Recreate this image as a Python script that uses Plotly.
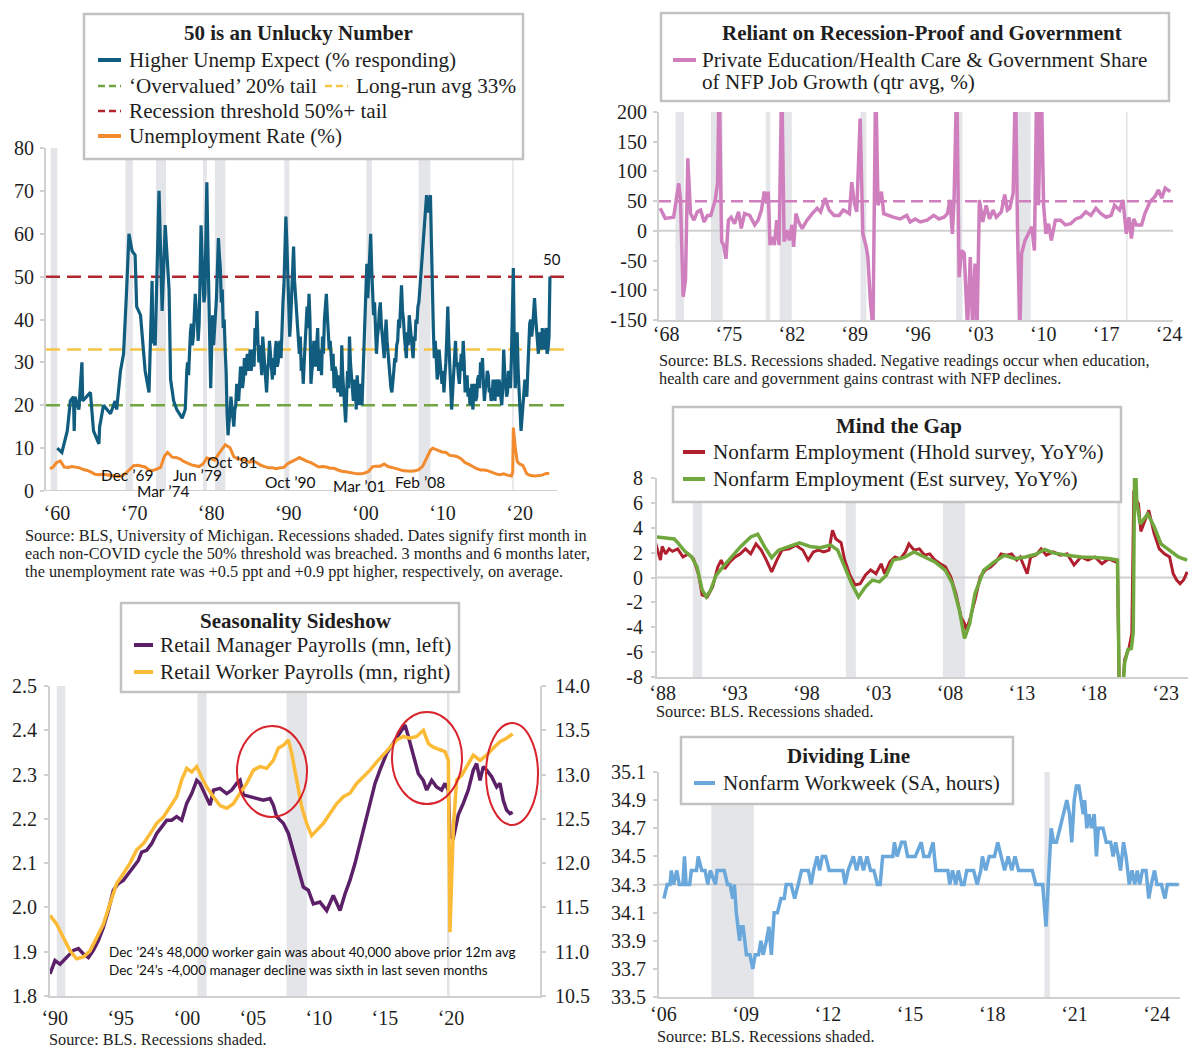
import plotly.graph_objects as go

# The page body has an 8px default margin; lay everything out in reference-pixel
# coordinates and convert to the figure's paper space.
OFF = 8
W, H = 1200 - 2 * OFF, 1058 - 2 * OFF
def px(x): return (x - OFF) / W
def py(y): return 1 - (y - OFF) / H

SERIF = "Liberation Serif"
SANS = "Lato"
INK = "#1e1e1e"
AXIS_GRAY = "#d0d0d0"
REC_GRAY = "#e4e5e8"
BOX_GRAY = "#c2c2c2"

# ---------------- data ----------------
recessions = [(1960.25, 1961.1), (1969.95, 1970.9), (1973.9, 1975.2), (1980.0, 1980.5),
              (1981.55, 1982.9), (1990.55, 1991.2), (2001.2, 2001.9), (2007.95, 2009.5),
              (2020.1, 2020.3)]

# Panel 1: Higher unemployment expectations (% responding)
ue_early_year = [1961.1, 1961.7, 1962.4, 1962.8, 1963.2, 1963.3, 1963.4, 1963.9, 1964.3, 1964.4,
                 1965.4, 1965.8, 1966.5, 1966.6, 1967.1, 1968.0, 1968.6, 1968.8, 1969.3, 1969.7,
                 1970.1, 1970.4, 1970.8, 1971.2, 1971.4, 1971.9, 1972.5, 1973.0, 1973.4, 1973.5,
                 1973.8, 1974.3, 1974.7, 1975.1, 1975.6, 1975.8, 1976.2, 1976.6, 1977.3, 1977.7,
                 1977.9]
ue_early_val = [10, 9, 14, 21, 22, 14, 22, 19, 30, 21,
                23, 14, 11, 15, 20, 18, 21, 19, 28, 32,
                47, 60, 56, 55, 43, 41, 28, 23, 49, 35,
                34, 70, 42, 62, 47, 26, 21, 19, 17, 19,
                28]
ue_start = 1978.0
ue_step = 0.125
ue_recent = [30, 27, 33, 37, 39, 34, 36, 41,   46, 42, 40, 35, 39, 50, 62, 55,
             50, 44, 46, 60, 72, 58, 45, 30,   24, 33, 41, 34, 37, 42, 45, 52,
             59, 55, 52, 44, 47, 38, 40, 33,   28, 18, 13, 16, 18, 22, 20, 17,
             15, 19, 20, 25, 23, 21, 25, 29,   28, 24, 26, 31, 27, 30, 32, 28,
             30, 33, 28, 31, 33, 29, 38, 34,   42, 35, 30, 34, 31, 27, 36, 33,
             30, 26, 23, 28, 30, 35, 32, 28,   26, 31, 27, 33, 35, 29, 30, 34,
             35, 31, 39, 44, 48, 55, 64, 58,   50, 42, 36, 40, 45, 52, 57, 49,
             45, 41, 38, 34, 32, 36, 28, 31,   25, 30, 35, 39, 43, 38, 46, 40,
             25, 28, 30, 35, 32, 29, 34, 38,   28, 33, 31, 27, 36, 32, 40, 44,
             46, 41, 38, 33, 35, 30, 28, 32,   24, 29, 28, 25, 23, 27, 26, 22,
             34, 27, 22, 19, 16, 22, 28, 24,   36, 30, 26, 22, 21, 26, 25, 19,
             27, 23, 20, 25, 24, 20, 27, 31,   40, 47, 53, 45, 50, 55, 60, 52,
             48, 41, 44, 37, 32, 36, 38, 42,   44, 39, 36, 33, 31, 36, 40, 35,
             32, 28, 27, 24, 23, 27, 28, 31,   30, 34, 35, 40, 38, 43, 48, 42,
             40, 36, 34, 31, 37, 34, 41, 38,   35, 33, 31, 36, 35, 40, 39, 43,
             44, 47, 50, 54, 57, 60, 63, 66,   69, 66, 65, 68, 69, 58, 45, 38,
             31, 35, 31, 26, 28, 33, 30, 27,   25, 28, 23, 27, 30, 36, 43, 35,
             28, 24, 19, 23, 27, 31, 35, 29,   30, 27, 25, 29, 32, 28, 35, 30,
             23, 26, 27, 22, 24, 20, 21, 25,   19, 23, 25, 21, 22, 26, 27, 24,
             30, 27, 31, 25, 21, 24, 25, 28,   27, 23, 24, 21, 22, 26, 23, 21,
             26, 23, 22, 26, 25, 22, 20, 24,   33, 28, 25, 22, 23, 28, 27, 24,
             31, 42, 52, 33, 24, 30, 37, 28,   24, 18, 14, 17, 20, 24, 26, 23,
             22, 28, 35, 39, 40, 36, 38, 42,   45, 41, 38, 33, 32, 37, 36, 33,
             38, 35, 33, 37, 38, 32, 33, 36,   50]

# Panel 1: Unemployment rate (%)
ur_year = [1960.15, 1960.5, 1961.0, 1961.5, 1962.0, 1962.5, 1963.0, 1963.5, 1964.0, 1964.5,
           1965.0, 1965.5, 1966.0, 1966.5, 1967.0, 1967.5, 1968.0, 1968.5, 1969.0, 1969.5,
           1970.0, 1970.5, 1971.0, 1971.5, 1972.0, 1972.5, 1973.0, 1973.5, 1974.0, 1974.5,
           1975.0, 1975.4, 1975.75, 1976.0, 1976.5, 1977.0, 1977.5, 1978.0, 1978.5, 1979.0,
           1979.5, 1980.0, 1980.5, 1981.0, 1981.5, 1982.0, 1982.5, 1982.9, 1983.5, 1984.0,
           1984.5, 1985.0, 1985.5, 1986.0, 1986.5, 1987.0, 1987.5, 1988.0, 1988.5, 1989.0,
           1989.5, 1990.0, 1990.5, 1991.0, 1991.5, 1992.0, 1992.5, 1993.0, 1993.5, 1994.0,
           1994.5, 1995.0, 1995.5, 1996.0, 1996.5, 1997.0, 1997.5, 1998.0, 1998.5, 1999.0,
           1999.5, 2000.0, 2000.5, 2001.0, 2001.5, 2002.0, 2002.5, 2003.0, 2003.5, 2004.0,
           2004.5, 2005.0, 2005.5, 2006.0, 2006.5, 2007.0, 2007.5, 2008.0, 2008.5, 2009.0,
           2009.5, 2009.8, 2010.5, 2011.0, 2011.5, 2012.0, 2012.5, 2013.0, 2013.5, 2014.0,
           2014.5, 2015.0, 2015.5, 2016.0, 2016.5, 2017.0, 2017.5, 2018.0, 2018.5, 2019.0,
           2019.5, 2020.0, 2020.17, 2020.25, 2020.5, 2020.75, 2021.0, 2021.5, 2022.0, 2022.5,
           2023.0, 2023.5, 2024.0, 2024.5, 2024.9]
ur_val = [5.2, 5.5, 6.6, 7.0, 5.6, 5.5, 5.7, 5.6, 5.4, 5.0,
          4.8, 4.4, 3.9, 3.8, 3.9, 3.8, 3.6, 3.5, 3.4, 3.5,
          4.2, 5.0, 5.9, 6.0, 5.8, 5.6, 4.9, 4.8, 5.1, 5.5,
          8.1, 9.0, 8.4, 7.9, 7.8, 7.5, 6.9, 6.4, 6.1, 5.9,
          5.7, 6.3, 7.7, 7.5, 7.2, 8.6, 9.8, 10.8, 10.1, 8.0,
          7.5, 7.3, 7.2, 6.7, 7.0, 6.6, 6.0, 5.7, 5.4, 5.4,
          5.2, 5.4, 5.5, 6.4, 6.8, 7.3, 7.8, 7.3, 6.9, 6.6,
          6.1, 5.6, 5.7, 5.6, 5.3, 5.3, 4.9, 4.6, 4.5, 4.3,
          4.2, 4.0, 4.0, 4.2, 4.6, 5.7, 5.8, 5.8, 6.3, 5.7,
          5.5, 5.3, 5.0, 4.7, 4.6, 4.6, 4.7, 5.0, 5.8, 7.8,
          9.5, 10.0, 9.4, 9.1, 9.0, 8.3, 8.2, 8.0, 7.5, 6.6,
          6.2, 5.7, 5.2, 4.9, 4.9, 4.7, 4.3, 4.0, 3.8, 4.0,
          3.7, 3.5, 4.4, 14.8, 10.2, 6.9, 6.4, 5.9, 4.0, 3.6,
          3.5, 3.6, 3.7, 4.1, 4.1]

# Panel 2: Private Ed/Health & Government share of NFP growth
pink_points = [(1968.24, 38), (1968.80, 21), (1969.74, 23), (1970.31, 80), (1970.50, 53),
    (1970.80, -111), (1971.06, -83), (1971.32, 122), (1971.62, 29), (1972.00, 18), (1972.38, 32),
    (1972.75, 35), (1973.13, 15), (1973.51, 26), (1973.88, 26), (1974.37, 52), (1974.63, 80),
    (1974.82, 260), (1975.01, 53), (1975.09, -18), (1975.31, -24), (1975.57, -47), (1975.84, 18),
    (1976.14, 23), (1976.52, 12), (1976.97, 32), (1977.27, 4), (1977.64, 29), (1978.21, 26),
    (1978.77, 10), (1979.15, 18), (1979.52, 35), (1979.83, 66), (1980.09, 46), (1980.28, 66),
    (1980.47, -24), (1980.73, -10), (1980.95, -24), (1981.22, 18), (1981.48, -24), (1981.78, 260),
    (1982.04, -18), (1982.35, 1), (1982.61, -16), (1982.91, 10), (1983.10, -27), (1983.36, 29),
    (1983.66, 15), (1984.04, 4), (1984.60, 18), (1985.17, 29), (1985.73, 38), (1986.11, 32),
    (1986.60, 55), (1987.05, 35), (1987.61, 26), (1988.18, 26), (1988.63, 35), (1989.00, 32),
    (1989.31, 29), (1989.57, 82), (1989.87, 46), (1990.13, 32), (1990.51, 189), (1990.81, -5),
    (1991.19, -27), (1991.37, -44), (1991.64, -117), (1991.94, -165), (1992.24, 260),
    (1992.50, 43), (1992.88, 66), (1993.14, 29), (1993.63, 26), (1994.20, 23), (1994.95, 20),
    (1995.70, 26), (1996.08, 15), (1996.64, 20), (1997.21, 15), (1997.96, 18), (1998.71, 26),
    (1999.28, 20), (1999.84, 23), (2000.22, 29), (2000.52, 52), (2000.78, -5), (2000.97, 52),
    (2001.27, 260), (2001.53, -78), (2001.80, -33), (2002.10, -38), (2002.47, -165),
    (2002.77, -44), (2003.04, -165), (2003.30, -55), (2003.53, -165), (2003.79, 52),
    (2004.17, 15), (2004.54, 43), (2004.92, 20), (2005.30, 35), (2005.67, 23), (2006.23, 32),
    (2006.61, 61), (2006.91, 35), (2007.18, 38), (2007.55, 64), (2007.81, 260), (2008.04, -5),
    (2008.30, -165), (2008.49, -38), (2008.87, -16), (2009.24, -5), (2009.62, 7), (2009.92, -33),
    (2010.18, 260), (2010.37, 43), (2010.67, 260), (2010.94, 43), (2011.20, -5), (2011.50, 12),
    (2011.80, -16), (2012.25, 18), (2012.82, 18), (2013.38, 10), (2013.95, 12), (2014.51, 20),
    (2015.08, 23), (2015.64, 32), (2016.20, 26), (2016.77, 38), (2017.33, 29), (2017.90, 23),
    (2018.46, 26), (2018.84, 43), (2019.40, 35), (2019.78, 52), (2020.15, -5), (2020.45, 23),
    (2020.72, -13), (2020.98, 20), (2021.28, 10), (2021.85, 10), (2022.22, 29), (2022.79, 49),
    (2023.35, 58), (2023.73, 69), (2024.10, 55), (2024.48, 72), (2025.04, 66)]

# Panel 3: Nonfarm employment YoY%
hhold_points = [(1987.93, 2.9), (1988.30, 1.4), (1988.42, 2.5), (1988.66, 1.9), (1988.90, 2.3),
    (1989.14, 2.1), (1989.50, 2.3), (1989.87, 1.65), (1990.23, 1.9), (1990.60, 1.5), (1990.96, 0.2),
    (1991.20, -1.4), (1991.56, -1.56), (1991.93, -0.75), (1992.29, 0.85), (1992.53, 1.4),
    (1992.77, 0.7), (1993.13, 1.25), (1993.50, 1.65), (1993.86, 1.9), (1994.22, 2.3), (1994.58, 1.9),
    (1994.95, 2.7), (1995.31, 2.2), (1995.67, 1.4), (1996.04, 0.45), (1996.40, 1.4), (1996.76, 2.2),
    (1997.25, 2.3), (1997.73, 2.6), (1998.21, 2.2), (1998.58, 1.4), (1998.94, 2.06), (1999.30, 2.2),
    (1999.66, 2.06), (2000.03, 2.2), (2000.27, 3.8), (2000.51, 3.1), (2000.87, 2.8), (2001.12, 1.4),
    (2001.48, 0.2), (2001.84, -0.6), (2002.20, -0.5), (2002.57, 0.2), (2002.93, 0.6), (2003.30, 0.3),
    (2003.66, 1.1), (2003.90, 0.3), (2004.26, 1.25), (2004.62, 1.65), (2004.99, 1.5), (2005.35, 2.06),
    (2005.59, 2.7), (2005.95, 2.2), (2006.32, 2.3), (2006.68, 1.8), (2007.04, 1.9), (2007.40, 1.4),
    (2007.77, 1.1), (2008.13, 0.85), (2008.50, 0.05), (2008.86, -1.3), (2009.22, -3.2),
    (2009.46, -3.7), (2009.58, -4.2), (2009.82, -3.4), (2010.19, -1.8), (2010.55, 0.05),
    (2010.91, 0.6), (2011.28, 0.85), (2011.64, 1.25), (2012.00, 1.9), (2012.37, 1.8), (2012.73, 1.9),
    (2013.09, 1.4), (2013.33, 1.65), (2013.82, 0.3), (2014.06, 1.65), (2014.42, 1.8), (2014.79, 2.3),
    (2015.15, 1.8), (2015.63, 2.06), (2016.12, 1.8), (2016.60, 1.9), (2017.08, 1.0), (2017.56, 1.65),
    (2018.05, 1.4), (2018.53, 1.65), (2019.02, 1.1), (2019.50, 1.5), (2019.98, 1.25), (2020.10, 1.3),
    (2020.28, -14.0), (2020.45, -9.0), (2020.60, -6.6), (2020.90, -5.7), (2021.10, -4.5),
    (2021.24, 7.0), (2021.40, 6.2), (2021.56, 5.95), (2021.73, 3.7), (2022.04, 4.6), (2022.28, 5.4),
    (2022.65, 3.55), (2023.01, 2.3), (2023.37, 1.9), (2023.73, 1.65), (2023.98, 0.3),
    (2024.22, -0.2), (2024.46, -0.5), (2024.70, -0.2), (2024.95, 0.45)]
est_points = [(1988.05, 3.26), (1988.60, 3.2), (1989.26, 3.1), (1989.50, 2.8), (1990.00, 2.1),
    (1990.47, 1.65), (1990.84, 0.85), (1991.20, -1.0), (1991.49, -1.56), (1991.80, -1.0),
    (1992.17, 0.18), (1992.65, 0.85), (1993.13, 1.52), (1993.86, 2.46), (1994.58, 3.26),
    (1995.07, 3.48), (1995.55, 2.46), (1996.04, 1.6), (1996.52, 2.2), (1997.25, 2.46),
    (1997.97, 2.78), (1998.70, 2.5), (1999.42, 2.4), (2000.15, 2.6), (2000.63, 2.2), (2001.12, 0.85),
    (2001.60, -0.48), (2002.08, -1.56), (2002.57, -0.75), (2003.05, -0.21), (2003.54, -0.35),
    (2004.02, 0.18), (2004.50, 1.4), (2005.23, 1.6), (2005.95, 2.06), (2006.68, 1.65),
    (2007.40, 1.25), (2008.13, 0.58), (2008.61, -0.48), (2009.10, -2.62), (2009.46, -4.9),
    (2009.82, -3.7), (2010.19, -1.29), (2010.79, 0.58), (2011.52, 1.25), (2012.24, 1.79),
    (2012.97, 1.52), (2013.70, 1.65), (2014.42, 1.87), (2015.03, 2.25), (2015.63, 1.98),
    (2016.60, 1.79), (2017.56, 1.65), (2018.53, 1.6), (2019.50, 1.52), (2020.10, 1.4),
    (2020.28, -13.0), (2020.40, -10.5), (2020.60, -6.9), (2020.83, -5.8), (2021.07, -5.7),
    (2021.20, -4.4), (2021.31, 10.7), (2021.45, 6.0), (2021.68, 4.3), (2022.21, 5.1),
    (2022.65, 4.1), (2023.13, 2.7), (2023.86, 2.06), (2024.34, 1.65), (2024.95, 1.4)]

# Panel 4: Retail payrolls (mn)
manager_points = [(1990.04, 1.85), (1990.42, 1.88), (1990.80, 1.872), (1991.30, 1.886),
    (1991.81, 1.903), (1992.19, 1.907), (1992.57, 1.895), (1992.95, 1.887), (1993.32, 1.903),
    (1993.70, 1.925), (1994.08, 1.955), (1994.46, 1.993), (1994.84, 2.039), (1995.22, 2.054),
    (1995.59, 2.061), (1995.97, 2.076), (1996.35, 2.091), (1996.73, 2.106), (1996.98, 2.125),
    (1997.36, 2.129), (1997.74, 2.144), (1998.12, 2.167), (1998.50, 2.182), (1998.88, 2.197),
    (1999.25, 2.197), (1999.63, 2.205), (2000.01, 2.197), (2000.39, 2.235), (2000.77, 2.257),
    (2001.15, 2.287), (2001.40, 2.28), (2001.78, 2.257), (2002.16, 2.231), (2002.41, 2.265),
    (2002.91, 2.269), (2003.42, 2.257), (2003.80, 2.265), (2004.17, 2.28), (2004.43, 2.287),
    (2004.68, 2.254), (2005.18, 2.25), (2005.69, 2.246), (2006.19, 2.242), (2006.70, 2.246),
    (2006.95, 2.231), (2007.20, 2.205), (2007.71, 2.19), (2008.09, 2.167), (2008.46, 2.129),
    (2008.84, 2.091), (2009.22, 2.046), (2009.60, 2.039), (2009.98, 2.008), (2010.48, 2.012),
    (2010.99, 1.993), (2011.49, 2.027), (2012.00, 1.993), (2012.38, 2.031), (2012.75, 2.061),
    (2013.13, 2.099), (2013.51, 2.144), (2013.89, 2.19), (2014.27, 2.235), (2014.65, 2.28),
    (2015.02, 2.31), (2015.53, 2.348), (2016.03, 2.371), (2016.54, 2.393), (2016.92, 2.412),
    (2017.17, 2.386), (2017.55, 2.34), (2017.93, 2.302), (2018.30, 2.287), (2018.56, 2.265),
    (2018.94, 2.287), (2019.31, 2.272), (2019.69, 2.265), (2019.95, 2.28), (2020.20, 2.265),
    (2020.32, 2.16), (2020.58, 2.157), (2020.96, 2.21), (2021.33, 2.235), (2021.71, 2.265),
    (2022.09, 2.31), (2022.34, 2.325), (2022.60, 2.287), (2022.85, 2.318), (2023.10, 2.31),
    (2023.48, 2.295), (2023.86, 2.272), (2024.11, 2.28), (2024.36, 2.242), (2024.61, 2.22),
    (2024.87, 2.212), (2025.07, 2.215)]
worker_points = [(1990.04, 11.41), (1990.55, 11.31), (1991.05, 11.16), (1991.56, 11.01),
    (1992.06, 10.92), (1992.57, 10.94), (1993.07, 11.01), (1993.58, 11.16), (1994.08, 11.31),
    (1994.58, 11.54), (1995.09, 11.77), (1995.59, 11.88), (1996.10, 12.0), (1996.60, 12.15),
    (1997.11, 12.22), (1997.61, 12.33), (1998.12, 12.45), (1998.62, 12.52), (1999.13, 12.64),
    (1999.63, 12.75), (2000.01, 12.94), (2000.39, 13.07), (2000.77, 13.03), (2001.15, 13.09),
    (2001.52, 12.97), (2001.90, 12.86), (2002.41, 12.75), (2002.91, 12.65), (2003.42, 12.62),
    (2003.92, 12.67), (2004.43, 12.79), (2004.93, 12.9), (2005.44, 13.05), (2005.94, 13.09),
    (2006.45, 13.07), (2006.95, 13.16), (2007.33, 13.3), (2007.71, 13.33), (2008.09, 13.39),
    (2008.34, 13.24), (2008.72, 12.94), (2009.09, 12.64), (2009.47, 12.45), (2009.85, 12.31),
    (2010.23, 12.37), (2010.74, 12.45), (2011.24, 12.56), (2011.74, 12.67), (2012.25, 12.75),
    (2012.75, 12.79), (2013.26, 12.9), (2013.76, 12.97), (2014.27, 13.05), (2014.77, 13.14),
    (2015.28, 13.22), (2015.78, 13.31), (2016.29, 13.39), (2016.79, 13.43), (2017.30, 13.41),
    (2017.80, 13.43), (2018.31, 13.5), (2018.69, 13.35), (2019.06, 13.31), (2019.57, 13.28),
    (2019.95, 13.26), (2020.20, 13.16), (2020.32, 11.22), (2020.58, 12.41), (2020.83, 12.94),
    (2021.21, 12.99), (2021.59, 13.09), (2022.09, 13.22), (2022.60, 13.16), (2023.10, 13.22),
    (2023.61, 13.3), (2024.11, 13.37), (2024.61, 13.41), (2025.07, 13.46)]

# Panel 5: Nonfarm workweek (SA, hours)
workweek_points = [(2006.22, 34.2), (2006.34, 34.3), (2006.44, 34.3), (2006.49, 34.4),
    (2006.57, 34.3), (2006.69, 34.4), (2006.78, 34.3), (2006.91, 34.3), (2006.97, 34.5),
    (2007.03, 34.3), (2007.16, 34.3), (2007.22, 34.4), (2007.41, 34.4), (2007.47, 34.5),
    (2007.60, 34.4), (2007.72, 34.4), (2007.82, 34.3), (2007.91, 34.4), (2008.10, 34.3),
    (2008.16, 34.4), (2008.42, 34.4), (2008.54, 34.3), (2008.63, 34.3), (2008.73, 34.2),
    (2008.79, 34.3), (2008.86, 34.1), (2008.98, 33.9), (2009.04, 34.0), (2009.11, 34.0),
    (2009.17, 33.9), (2009.23, 33.8), (2009.36, 33.8), (2009.46, 33.7), (2009.55, 33.8),
    (2009.67, 33.8), (2009.76, 33.9), (2009.84, 33.8), (2009.96, 33.9), (2010.05, 34.0),
    (2010.14, 33.8), (2010.24, 34.1), (2010.36, 34.1), (2010.49, 34.2), (2010.61, 34.2),
    (2010.68, 34.3), (2010.86, 34.3), (2010.99, 34.2), (2011.12, 34.3), (2011.24, 34.4),
    (2011.49, 34.4), (2011.59, 34.3), (2011.68, 34.4), (2011.81, 34.5), (2011.90, 34.4),
    (2012.00, 34.5), (2012.12, 34.5), (2012.25, 34.4), (2012.50, 34.4), (2012.75, 34.4),
    (2012.83, 34.3), (2012.94, 34.4), (2013.13, 34.5), (2013.25, 34.4), (2013.38, 34.5),
    (2013.50, 34.4), (2013.63, 34.5), (2013.76, 34.4), (2013.88, 34.4), (2014.01, 34.3),
    (2014.11, 34.3), (2014.20, 34.5), (2014.38, 34.5), (2014.57, 34.5), (2014.63, 34.6),
    (2014.73, 34.5), (2014.89, 34.6), (2015.01, 34.6), (2015.11, 34.5), (2015.26, 34.5),
    (2015.39, 34.5), (2015.61, 34.6), (2015.70, 34.5), (2015.89, 34.5), (2016.04, 34.6),
    (2016.14, 34.4), (2016.39, 34.4), (2016.58, 34.4), (2016.65, 34.3), (2016.75, 34.4),
    (2016.87, 34.3), (2016.96, 34.4), (2017.08, 34.3), (2017.17, 34.3), (2017.27, 34.4),
    (2017.52, 34.4), (2017.65, 34.3), (2017.78, 34.4), (2017.84, 34.5), (2017.96, 34.4),
    (2018.09, 34.5), (2018.28, 34.5), (2018.40, 34.6), (2018.53, 34.5), (2018.65, 34.4),
    (2018.78, 34.5), (2018.91, 34.4), (2019.03, 34.5), (2019.16, 34.4), (2019.41, 34.4),
    (2019.66, 34.4), (2019.79, 34.3), (2020.04, 34.3), (2020.16, 34.0), (2020.35, 34.7),
    (2020.44, 34.6), (2020.54, 34.6), (2020.67, 34.7), (2020.79, 34.8), (2020.92, 34.9),
    (2021.02, 34.8), (2021.10, 34.6), (2021.19, 34.9), (2021.27, 35.0), (2021.36, 35.0),
    (2021.44, 34.9), (2021.52, 34.8), (2021.57, 34.9), (2021.65, 34.7), (2021.73, 34.8),
    (2021.82, 34.7), (2021.92, 34.8), (2022.00, 34.5), (2022.07, 34.7), (2022.24, 34.7),
    (2022.36, 34.6), (2022.52, 34.6), (2022.61, 34.5), (2022.70, 34.6), (2022.80, 34.5),
    (2022.88, 34.4), (2022.99, 34.6), (2023.08, 34.5), (2023.20, 34.3), (2023.30, 34.4),
    (2023.40, 34.3), (2023.49, 34.4), (2023.58, 34.3), (2023.68, 34.4), (2023.81, 34.4),
    (2023.91, 34.2), (2024.00, 34.3), (2024.12, 34.4), (2024.21, 34.3), (2024.37, 34.3),
    (2024.50, 34.2), (2024.59, 34.3), (2025.00, 34.3)]

# tick labels
p1_years = [1960, 1970, 1980, 1990, 2000, 2010, 2020]
p2_years = [1968, 1975, 1982, 1989, 1996, 2003, 2010, 2017, 2024]
p3_years = [1988, 1993, 1998, 2003, 2008, 2013, 2018, 2023]
p4_years = [1990, 1995, 2000, 2005, 2010, 2015, 2020]
p5_years = [2006, 2009, 2012, 2015, 2018, 2021, 2024]

# ---------------- figure ----------------
def yr_label(y):
    return "\u2018%02d" % (y % 100)

def unzip(pts):
    return [p[0] for p in pts], [p[1] for p in pts]

fig = go.Figure()

ue_x = ue_early_year + [ue_start + ue_step * i for i in range(len(ue_recent))]
ue_y = ue_early_val + ue_recent

fig.add_trace(go.Scatter(x=ur_year, y=ur_val, mode="lines", line=dict(color="#f28a2e", width=3),
                         xaxis="x", yaxis="y", name="Unemployment Rate (%)"))
fig.add_trace(go.Scatter(x=ue_x, y=ue_y, mode="lines", line=dict(color="#115d80", width=3.2),
                         xaxis="x", yaxis="y", name="Higher Unemp Expect (% responding)"))

x, y = unzip(pink_points)
fig.add_trace(go.Scatter(x=x, y=y, mode="lines", line=dict(color="#d07fbe", width=3.5),
                         xaxis="x2", yaxis="y2", name="Private Ed/Health & Gov share"))
x, y = unzip(hhold_points)
fig.add_trace(go.Scatter(x=x, y=y, mode="lines", line=dict(color="#b01f2e", width=3),
                         xaxis="x3", yaxis="y3", name="Hhold survey"))
x, y = unzip(est_points)
fig.add_trace(go.Scatter(x=x, y=y, mode="lines", line=dict(color="#70a83e", width=3.5),
                         xaxis="x3", yaxis="y3", name="Est survey"))
x, y = unzip(manager_points)
fig.add_trace(go.Scatter(x=x, y=y, mode="lines", line=dict(color="#5b2068", width=3.5),
                         xaxis="x4", yaxis="y4", name="Retail Manager Payrolls"))
x, y = unzip(worker_points)
fig.add_trace(go.Scatter(x=x, y=y, mode="lines", line=dict(color="#fbbb36", width=3.5),
                         xaxis="x4", yaxis="y5", name="Retail Worker Payrolls"))
x, y = unzip(workweek_points)
fig.add_trace(go.Scatter(x=x, y=y, mode="lines", line=dict(color="#6aa8dc", width=3.5),
                         xaxis="x5", yaxis="y6", name="Nonfarm Workweek"))

TICKFONT = dict(family=SERIF, size=20, color=INK)

def xax(l, r, rng, years, shift, anchor, standoff, showline=True):
    return dict(domain=[px(l), px(r)], range=rng, anchor=anchor, showgrid=False, zeroline=False,
                showline=showline, linecolor=AXIS_GRAY, linewidth=2, ticks="",
                tickmode="array", tickvals=[v + shift for v in years],
                ticktext=[yr_label(v) for v in years], tickfont=TICKFONT,
                ticklabelstandoff=standoff, automargin=False, fixedrange=True)

def yax(top, bottom, rng, vals, anchor, fmt=None, side="left", standoff=4, overlaying=None):
    d = dict(domain=[py(bottom), py(top)], range=rng, anchor=anchor, showgrid=False, zeroline=False,
             showline=True, linecolor=AXIS_GRAY, linewidth=2, ticks="outside", ticklen=4,
             tickcolor=AXIS_GRAY, tickwidth=1.5, tickmode="array", tickvals=vals,
             ticktext=[(fmt % v) if fmt else str(v) for v in vals], tickfont=TICKFONT,
             side=side, ticklabelstandoff=standoff, automargin=False, fixedrange=True)
    if overlaying:
        d["overlaying"] = overlaying
    return d

P1X = (1959.64, 2027.73)
P2X = (1968.11, 2025.35)
P3X = (1988.06, 2025.01)
P4X = (1990.04, 2027.14)
P5X = (2006.04, 2025.05)

layout = dict(
    width=W, height=H, margin=dict(l=0, r=0, t=0, b=0), template="none",
    paper_bgcolor="white", plot_bgcolor="rgba(0,0,0,0)", showlegend=False,
    xaxis=xax(46, 571, P1X, p1_years, 1.06, "y", 8, showline=False),
    yaxis=yax(148, 491, [0, 80], list(range(0, 81, 10)), "x", standoff=2),
    xaxis2=xax(659, 1173, P2X, p2_years, 0.9, "y2", -5),
    yaxis2=yax(112, 320, [-150, 200], list(range(-150, 201, 50)), "x2", standoff=2),
    xaxis3=xax(657, 1188, P3X, p3_years, 0.45, "y3", -3),
    yaxis3=yax(478, 677, [-8, 8], list(range(-8, 9, 2)), "x3", standoff=4),
    xaxis4=xax(50, 540, P4X, p4_years, 0.4, "y4", 3),
    yaxis4=yax(686, 996, [1.8, 2.5], [1.8 + 0.1 * i for i in range(8)], "x4", fmt="%.1f", standoff=3),
    yaxis5=yax(686, 996, [10.5, 14.0], [10.5 + 0.5 * i for i in range(8)], "x4", fmt="%.1f",
               side="right", standoff=5, overlaying="y4"),
    xaxis5=xax(659, 1180, P5X, p5_years, 0.2, "y6", -2),
    yaxis6=yax(772, 997, [33.5, 35.1], [33.5 + 0.2 * i for i in range(9)], "x5", fmt="%.1f", standoff=3),
)

shapes = []
annotations = []

# recession shading
for xr, yr, rng in [("x", "y", P1X), ("x2", "y2", P2X), ("x3", "y3", P3X), ("x4", "y4", P4X), ("x5", "y6", P5X)]:
    for a, b in recessions:
        if b <= rng[0] or a >= rng[1]:
            continue
        shapes.append(dict(type="rect", xref=xr, yref=yr + " domain", x0=max(a, rng[0]), x1=b, y0=0, y1=1,
                           fillcolor=REC_GRAY, line=dict(width=0), layer="below"))

def refline(xr, yr, yv, color, width, dash="solid", x1=1):
    shapes.append(dict(type="line", xref=xr + " domain", yref=yr, x0=0, x1=x1, y0=yv, y1=yv,
                       line=dict(color=color, width=width, dash=dash), layer="below"))

# panel 1 baseline + reference lines
refline("x", "y", 0, AXIS_GRAY, 2, x1=(557 - 46) / (571 - 46))
refline("x", "y", 50, "#b3262f", 2.5, "14px,7px")
refline("x", "y", 33, "#f6c545", 2.5, "14px,7px")
refline("x", "y", 20, "#73a442", 2.5, "14px,7px")
# panel 2
refline("x2", "y2", 0, AXIS_GRAY, 2)
refline("x2", "y2", 50, "#d07fbe", 2.5, "12px,6px")
# panel 3
refline("x3", "y3", 0, AXIS_GRAY, 2)
# panel 5
refline("x5", "y6", 34.3, AXIS_GRAY, 2)

def box(x0, y0, x1, y1):
    shapes.append(dict(type="rect", xref="paper", yref="paper", x0=px(x0), x1=px(x1), y0=py(y1), y1=py(y0),
                       fillcolor="white", line=dict(color=BOX_GRAY, width=2.5), layer="above"))

def sample(x0, x1, yy, color, dash="solid", width=4):
    shapes.append(dict(type="line", xref="paper", yref="paper", x0=px(x0), x1=px(x1), y0=py(yy), y1=py(yy),
                       line=dict(color=color, width=width, dash=dash), layer="above"))

LEG = 21.2
TITLE = 21
SRC = 16.3

def text(xx, yy, s, size=LEG, family=SERIF, anchor="left", bold=False, color=INK):
    annotations.append(dict(xref="paper", yref="paper", x=px(xx), y=py(yy),
                            text=("<b>%s</b>" % s) if bold else s, showarrow=False,
                            xanchor=anchor, yanchor="middle",
                            font=dict(family=family, size=size, color=color)))

# ---- Panel 1 legend ----
box(84, 14, 523, 159)
text(298, 33, "50 is an Unlucky Number", size=TITLE, anchor="center", bold=True)
sample(98, 121, 60, "#115d80")
text(127, 60, "Higher Unemp Expect (% responding)")
sample(98, 121, 86, "#73a442", "7px,4px", 2.5)
text(127, 86, "\u2018Overvalued\u2019 20% tail")
sample(325, 348, 86, "#f6c545", "7px,4px", 2.5)
text(354, 86, "Long-run avg 33%")
sample(98, 121, 111, "#b3262f", "7px,4px", 2.5)
text(127, 111, "Recession threshold 50%+ tail")
sample(98, 121, 136, "#f28a2e")
text(127, 136, "Unemployment Rate (%)")

# panel 1 breach labels
for lbl, cx, cy in [("Dec \u201969", 127, 475), ("Mar \u201974", 163, 491), ("Jun \u201979", 197, 475),
                    ("Oct \u201981", 232, 462), ("Oct \u201990", 290, 482), ("Mar \u201901", 359, 486),
                    ("Feb \u201908", 420, 482)]:
    text(cx, cy, lbl, size=15.5, family=SANS, anchor="center", color="#111")
text(552, 259, "50", size=15, family=SANS, anchor="center", color="#111")

text(23, 535, "Source: BLS, University of Michigan. Recessions shaded. Dates signify first month in", size=SRC)
text(23, 553, "each non-COVID cycle the 50% threshold was breached. 3 months and 6 months later,", size=SRC)
text(23, 571, "the unemployment rate was +0.5 ppt and +0.9 ppt higher, respectively, on average.", size=SRC)

# ---- Panel 2 legend ----
box(661, 13, 1169, 101)
text(922, 33, "Reliant on Recession-Proof and Government", size=TITLE, anchor="center", bold=True)
sample(673, 696, 60, "#d07fbe")
text(700, 60, "Private Education/Health Care &amp; Government Share")
text(700, 82, "of NFP Job Growth (qtr avg, %)")
text(657, 360, "Source: BLS. Recessions shaded. Negative readings occur when education,", size=SRC)
text(657, 378, "health care and government gains contrast with NFP declines.", size=SRC)

# ---- Panel 3 legend ----
box(673, 407, 1121, 502)
text(899, 426, "Mind the Gap", size=TITLE, anchor="center", bold=True)
sample(683, 705, 452, "#b01f2e")
text(711, 452, "Nonfarm Employment (Hhold survey, YoY%)")
sample(683, 705, 479, "#70a83e")
text(711, 479, "Nonfarm Employment (Est survey, YoY%)")
text(654, 711, "Source: BLS. Recessions shaded.", size=SRC)

# ---- Panel 4 legend ----
box(121, 603, 459, 692)
text(296, 621, "Seasonality Sideshow", size=TITLE, anchor="center", bold=True)
sample(134, 153, 645, "#5b2068")
text(158, 645, "Retail Manager Payrolls (mn, left)")
sample(134, 153, 672, "#fbbb36")
text(158, 672, "Retail Worker Payrolls (mn, right)")
text(107, 952, "Dec \u201924\u2019s 48,000 worker gain was about 40,000 above prior 12m avg", size=13.5, family=SANS, color="#111")
text(107, 970, "Dec \u201924\u2019s -4,000 manager decline was sixth in last seven months", size=13.5, family=SANS, color="#111")
text(47, 1039, "Source: BLS. Recessions shaded.", size=SRC)
for x0, y0, x1, y1 in [(237, 726, 307, 817), (392, 712, 462, 804), (486, 723, 538, 825)]:
    shapes.append(dict(type="circle", xref="paper", yref="paper", x0=px(x0), x1=px(x1), y0=py(y1), y1=py(y0),
                       line=dict(color="#d8242c", width=2), fillcolor="rgba(0,0,0,0)", layer="above"))

# ---- Panel 5 legend ----
box(681, 737, 1013, 804)
text(848, 756, "Dividing Line", size=TITLE, anchor="center", bold=True)
sample(694, 715, 783, "#6aa8dc")
text(721, 783, "Nonfarm Workweek (SA, hours)")
text(655, 1036, "Source: BLS. Recessions shaded.", size=SRC)

layout["shapes"] = shapes
layout["annotations"] = annotations
fig.update_layout(**layout)
fig.write_html("out.html")
